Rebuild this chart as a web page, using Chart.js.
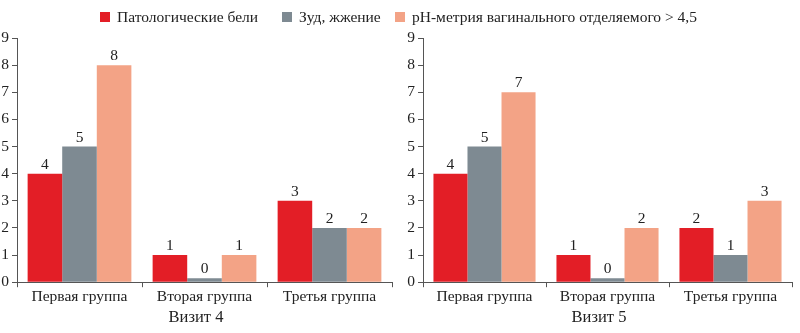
<!DOCTYPE html>
<html>
<head>
<meta charset="utf-8">
<script src="https://cdn.jsdelivr.net/npm/chart.js@4"></script>
<style>
  body { margin: 0; background: #fff; }
  #wrap { position: relative; width: 800px; height: 333px; overflow: hidden; }
  #left { position: absolute; left: 0; top: 0; }
  #right { position: absolute; left: 406px; top: 0; }
  .legend { position: absolute; top: 8px; font: 15.5px "Liberation Serif", serif; color: #222; white-space: nowrap; }
  .legend i { display: inline-block; width: 10px; height: 10px; margin-right: 7px; vertical-align: 0px; }
</style>
</head>
<body>
<div id="wrap">
  <canvas id="left" width="400" height="333"></canvas>
  <canvas id="right" width="394" height="333"></canvas>
  <div class="legend" style="left:100px"><i style="background:#E31E26"></i>Патологические бели</div>
  <div class="legend" style="left:282px"><i style="background:#7E8A92"></i>Зуд, жжение</div>
  <div class="legend" style="left:395px"><i style="background:#F3A386"></i>pH-метрия вагинального отделяемого &gt; 4,5</div>
</div>
<script>
const groups = ['Первая группа', 'Вторая группа', 'Третья группа'];
const seriesNames = ['Патологические бели', 'Зуд, жжение', 'pH-метрия вагинального отделяемого > 4,5'];
const seriesColors = ['#E31E26', '#7E8A92', '#F3A386'];

// visit 4
const v4Discharge = [4, 1, 3];
const v4Itching = [5, 0, 2];
const v4Ph = [8, 1, 2];

// visit 5
const v5Discharge = [4, 1, 2];
const v5Itching = [5, 0, 1];
const v5Ph = [7, 2, 3];

const yTicks = [0, 1, 2, 3, 4, 5, 6, 7, 8, 9];

const font = { family: '"Liberation Serif", serif', size: 15.5, weight: 'normal' };

const valueLabels = {
  id: 'valueLabels',
  afterDatasetsDraw(chart) {
    const ctx = chart.ctx;
    ctx.save();
    ctx.font = '15.5px "Liberation Serif", serif';
    ctx.fillStyle = '#222';
    ctx.textAlign = 'center';
    ctx.textBaseline = 'middle';
    chart.data.datasets.forEach((ds, i) => {
      chart.getDatasetMeta(i).data.forEach((bar, j) => {
        ctx.fillText(ds.data[j], bar.x, bar.y - 9);
      });
    });
    ctx.restore();
  }
};

function makeChart(id, title, values) {
  return new Chart(document.getElementById(id), {
    type: 'bar',
    data: {
      labels: groups,
      datasets: values.map((d, i) => ({
        label: seriesNames[i],
        data: d,
        backgroundColor: seriesColors[i],
        minBarLength: 4,
        categoryPercentage: 0.83,
        barPercentage: 1
      }))
    },
    options: {
      responsive: false,
      animation: false,
      layout: { padding: { top: 38, right: 8, left: 0, bottom: 0 } },
      plugins: {
        legend: { display: false },
        tooltip: { enabled: false },
        title: {
          display: true,
          text: title,
          position: 'bottom',
          color: '#222',
          font: { ...font, size: 16.5, lineHeight: 1.2 },
          padding: { top: 0, bottom: 5 }
        }
      },
      scales: {
        x: {
          afterFit: (s) => { s.height = 26; },
          grid: { drawOnChartArea: false, tickLength: 5, color: '#555', offset: true },
          border: { color: '#555' },
          ticks: { color: '#222', font, padding: 0 }
        },
        y: {
          min: 0,
          max: 9,
          afterFit: (s) => { s.width = 17; },
          afterBuildTicks: (s) => { s.ticks = yTicks.map(v => ({ value: v })); },
          grid: { drawOnChartArea: false, tickLength: 5, color: '#555' },
          border: { color: '#555' },
          ticks: { color: '#222', font, padding: 3 }
        }
      }
    },
    plugins: [valueLabels]
  });
}

makeChart('left', 'Визит 4', [v4Discharge, v4Itching, v4Ph]);
makeChart('right', 'Визит 5', [v5Discharge, v5Itching, v5Ph]);
</script>
</body>
</html>
